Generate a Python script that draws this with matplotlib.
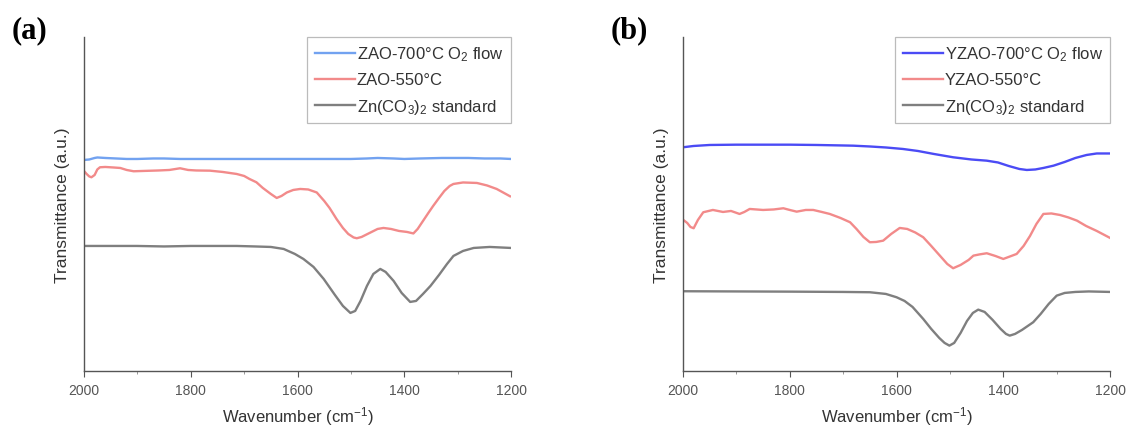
import numpy as np
import matplotlib
matplotlib.use("Agg")
import matplotlib.pyplot as plt

plt.rcParams['font.family'] = ['Liberation Sans', 'DejaVu Sans']
plt.rcParams['mathtext.fontset'] = 'custom'
plt.rcParams['mathtext.rm'] = 'Liberation Sans'
plt.rcParams['mathtext.it'] = 'Liberation Sans:italic'

# ---- panel (a) data (wavenumber, transmittance a.u.) ----
a_blue_w = [2000, 1990, 1980, 1975, 1960, 1940, 1920, 1900, 1870, 1850, 1820,
            1800, 1750, 1700, 1650, 1600, 1550, 1500, 1470, 1450, 1420, 1400,
            1370, 1330, 1300, 1280, 1250, 1220, 1200]
a_blue_t = [211, 211.5, 213, 213.5, 213, 212.5, 212, 212, 212.5, 212.5, 212,
            212, 212, 212, 212, 212, 212, 212, 212.5, 213, 212.5, 212,
            212.5, 213, 213, 213, 212.5, 212.5, 212]

a_red_w = [2000, 1995, 1990, 1986, 1980, 1975, 1970, 1960, 1945, 1932, 1920,
           1907, 1890, 1860, 1840, 1820, 1805, 1790, 1764, 1740, 1714, 1700,
           1690, 1677, 1665, 1650, 1639, 1630, 1620, 1608, 1595, 1580, 1564,
           1550, 1540, 1527, 1515, 1505, 1495, 1489, 1480, 1465, 1450, 1439,
           1425, 1410, 1395, 1383, 1375, 1365, 1355, 1346, 1335, 1325, 1315,
           1308, 1290, 1264, 1245, 1227, 1215, 1202]
a_red_t = [200, 197, 194.5, 193.7, 196, 201.5, 203.7, 204, 203.5, 203, 201,
           199.7, 200, 200.5, 201, 202.7, 201, 200.5, 200.3, 199, 197, 195,
           192, 188.7, 183, 177, 173, 175, 178.5, 181, 182, 181.5, 178.5,
           170, 163, 152, 143, 137, 133.5, 132.7, 134, 138, 142, 143,
           142, 140, 139, 137.5, 142, 150, 158, 165, 173, 180, 185,
           187, 188.5, 188, 185.5, 182, 178.5, 174.7]

a_blk_w = [2000, 1950, 1901, 1850, 1800, 1750, 1714, 1680, 1650, 1626, 1605,
           1589, 1570, 1551, 1530, 1515, 1501, 1492, 1482, 1470, 1458, 1445,
           1435, 1420, 1405, 1389, 1378, 1365, 1351, 1335, 1320, 1308, 1290,
           1270, 1240, 1200]
a_blk_t = [125, 125, 125, 124.5, 125, 125, 125, 124.5, 124, 122, 117,
           112, 104, 92, 76, 65, 58, 60, 70, 85, 97, 102,
           99, 90, 78, 69, 70, 77, 85, 96, 107, 115, 120,
           123, 124, 123]

# ---- panel (b) data ----
b_blue_w = [2000, 1980, 1950, 1900, 1850, 1800, 1750, 1700, 1681, 1650, 1620,
            1588, 1560, 1530, 1494, 1460, 1431, 1410, 1390, 1370, 1356, 1340,
            1325, 1306, 1285, 1265, 1244, 1225, 1200]
b_blue_t = [223.7, 225, 226, 226.3, 226.3, 226.3, 226, 225.5, 225.3, 224.5, 223.5,
            222, 220, 217, 213.7, 211.5, 210.3, 208.5, 205, 202, 201, 201.5,
            203, 205.3, 209, 213, 216, 217.5, 217.5]

b_red_w = [2000, 1992, 1986, 1980, 1972, 1962, 1944, 1925, 1910, 1894, 1885,
           1875, 1850, 1830, 1812, 1800, 1787, 1770, 1756, 1740, 1725, 1705,
           1687, 1675, 1662, 1650, 1638, 1625, 1610, 1594, 1580, 1565, 1550,
           1535, 1520, 1505, 1494, 1480, 1465, 1456, 1445, 1431, 1415, 1400,
           1385, 1375, 1362, 1350, 1338, 1325, 1310, 1294, 1278, 1262, 1245,
           1225, 1200]
b_red_t = [151.3, 148, 144, 142.7, 151, 158.7, 161, 159, 160, 157, 159,
           162, 161, 161.5, 162.7, 161, 159.3, 161, 161, 159, 157, 153,
           148.7, 142, 134, 128.7, 129, 130.3, 137, 143, 142, 138.5, 133.7,
           125, 116, 107, 102.7, 106, 111, 115.3, 116.5, 117.7, 115, 112,
           115, 117, 125, 135, 147, 157, 157.5, 156, 153.5, 150.3, 145,
           140, 133]

b_blk_w = [2000, 1900, 1800, 1700, 1650, 1620, 1600, 1585, 1570, 1550, 1535,
           1520, 1510, 1501, 1492, 1480, 1468, 1457, 1447, 1435, 1420, 1405,
           1395, 1388, 1378, 1365, 1344, 1330, 1315, 1300, 1285, 1265, 1240, 1200]
b_blk_t = [79.7, 79.5, 79.3, 79, 78.7, 77, 73.7, 70, 64, 52, 42,
           33, 28, 25.3, 28, 38, 50, 58, 61.3, 59, 51, 42,
           37, 35.3, 37, 41, 48.7, 57, 67, 75.3, 78, 79, 79.5, 79]

xticks = [2000, 1800, 1600, 1400, 1200]

panels = [
    ("(a)", [0.0745, 0.129, 0.379, 0.782],
     [(a_blue_w, a_blue_t, '#72a2f0', 'ZAO-700°C O$_2$ flow'),
      (a_red_w, a_red_t, '#f28a8a', 'ZAO-550°C'),
      (a_blk_w, a_blk_t, '#7f7f7f', 'Zn(CO$_3$)$_2$ standard')]),
    ("(b)", [0.606, 0.129, 0.379, 0.782],
     [(b_blue_w, b_blue_t, '#4b4bf5', 'YZAO-700°C O$_2$ flow'),
      (b_red_w, b_red_t, '#f28a8a', 'YZAO-550°C'),
      (b_blk_w, b_blk_t, '#7f7f7f', 'Zn(CO$_3$)$_2$ standard')]),
]

fig = plt.figure(figsize=(11.27, 4.27), dpi=100)

for tag, rect, series in panels:
    ax = fig.add_axes(rect)
    for w, t, c, lab in series:
        ax.plot(w, t, color=c, lw=1.7, label=lab)
    ax.set_xlim(2000, 1200)
    ax.set_ylim(0, 334)
    ax.set_xticks(xticks)
    ax.set_xticks([1900, 1700, 1500, 1300], minor=True)
    ax.set_yticks([])
    for s in ['top', 'right']:
        ax.spines[s].set_visible(False)
    for s in ['left', 'bottom']:
        ax.spines[s].set_color('#555555')
        ax.spines[s].set_linewidth(1.0)
    ax.tick_params(axis='x', which='major', length=4, color='#555555',
                   labelsize=10, labelcolor='#555555', pad=5)
    ax.tick_params(axis='x', which='minor', length=2, color='#888888')
    ax.set_xlabel('Wavenumber (cm$^{-1}$)', fontsize=12, color='#333333', labelpad=5)
    ax.set_ylabel('Transmittance (a.u.)', fontsize=12.5, color='#333333', labelpad=10)
    leg = ax.legend(loc='upper right', bbox_to_anchor=(1.0, 1.0), fontsize=12,
                    frameon=True, fancybox=False, edgecolor='#aaaaaa',
                    handlelength=2.4, labelspacing=0.55, borderpad=0.45,
                    handletextpad=0.1, borderaxespad=0.0)
    leg.get_frame().set_linewidth(0.9)
    for txt in leg.get_texts():
        txt.set_color('#333333')
    fig.text(rect[0] - 0.064, 0.962, tag, fontsize=22, fontweight='bold',
             family='Liberation Serif', va='top', ha='left')

fig.savefig('out.png', dpi=100)
